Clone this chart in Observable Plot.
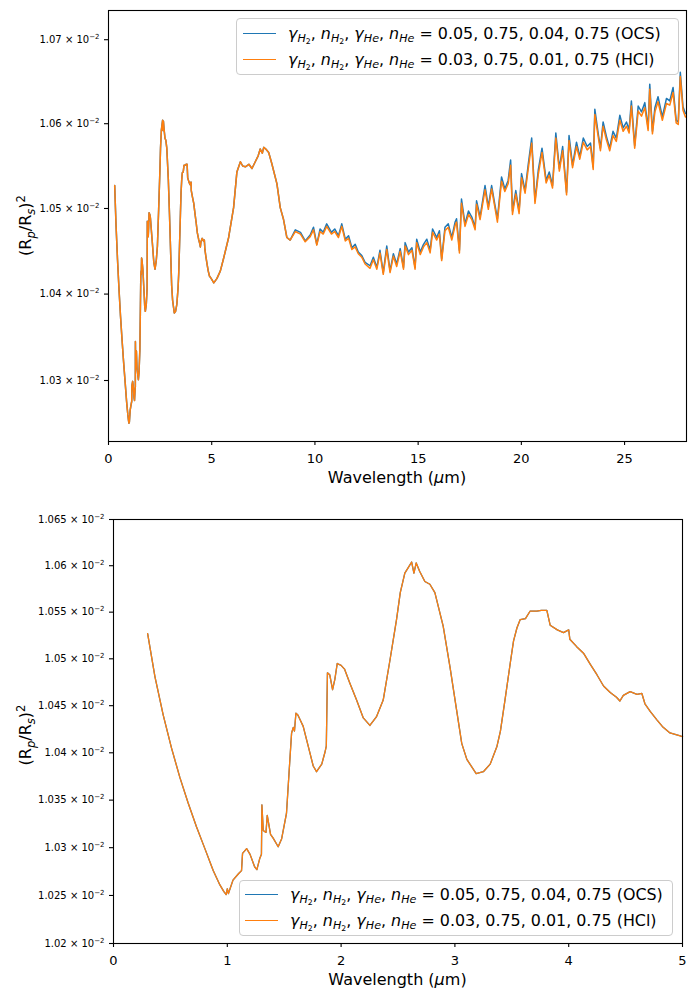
<!DOCTYPE html>
<html><head><meta charset="utf-8">
<script src="https://cdn.jsdelivr.net/npm/d3@7"></script>
<script src="https://cdn.jsdelivr.net/npm/@observablehq/plot@0.6"></script>
<style>
body{margin:0;background:#fff;font-family:"DejaVu Sans",sans-serif;}
.panel{position:relative;width:700px;overflow:hidden;}
.panel svg{display:block;}
.legend{position:absolute;background:rgba(255,255,255,0.8);border:1px solid #cccccc;border-radius:4px;box-sizing:border-box;font-family:"DejaVu Sans";color:#000;}
.row{display:flex;align-items:center;height:26px;white-space:nowrap;}
.handle{display:inline-block;width:33px;height:0;border-top:1.5px solid;}
.lab sub{font-size:70%;vertical-align:-0.3em;line-height:0;}
.lab i{font-style:italic;}
</style></head>
<body>
<div id="top" class="panel" style="height:494px"></div>
<div id="bottom" class="panel" style="height:495px"></div>
<script>
// ---- data: wavelength (µm) and (Rp/Rs)^2 in units of 1e-5 ----
const wlShort = [
 0.30,0.364,0.437,0.51,0.583,0.656,0.729,0.803,0.876,0.935,
 0.97,0.99,1.00,1.01,
 1.05,1.10,1.125,1.134,1.17,1.20,1.24,1.26,1.286,1.30,
 1.304,1.316,1.34,1.351,1.38,1.403,1.447,1.477,1.52,1.55,
 1.565,1.58,1.59,1.603,1.62,1.64,1.667,1.726,1.755,1.784,
 1.83,1.857,1.87,1.88,1.90,1.925,1.945,1.966,2.00,2.03,
 2.077,2.136,2.195,2.253,2.31,2.37,2.43,2.487,2.52,2.56,
 2.59,2.62,2.64,2.66,2.69,2.736,2.78,2.824,2.897,2.956,
 3.014,3.06,3.105,3.187,3.25,3.31,3.37,3.40,3.44,3.486,
 3.515,3.545,3.574,3.62,3.66,3.72,3.76,3.808,3.837,3.90,
 3.954,4.00,4.01,4.07,4.13,4.19,4.248,4.306,4.365,4.42,
 4.45,4.48,4.54,4.60,4.643,4.67,4.716,4.775,4.83,4.89,
 4.98,5.00,5.10,5.25,5.42,5.58,5.82,6.06,6.22,6.39,
 6.50,6.63,6.80,6.95,7.11,7.25,7.35,7.45,7.52,7.62,
 7.76,7.91,8.16,8.32,8.48,8.64,8.80
];
// identical for both line lists below 9 µm
const sharedShort = [
 1052.7,1048.1,1044.0,1040.5,1037.4,1034.7,1032.2,1029.9,1027.6,1026.1,
 1025.4,1025.1,1025.7,1025.2,
 1026.6,1027.3,1027.6,1029.4,1029.9,1029.3,1028.0,1027.7,1028.9,1029.3,
 1034.5,1031.8,1031.6,1033.4,1031.4,1031.0,1030.1,1030.9,1033.6,1039.3,
 1042.1,1042.7,1042.3,1044.2,1044.0,1043.5,1042.8,1040.0,1038.6,1038.0,
 1038.8,1040.0,1040.7,1048.5,1048.3,1046.7,1047.8,1049.5,1049.3,1048.9,
 1047.4,1045.6,1043.7,1042.9,1043.8,1045.6,1049.9,1054.2,1057.1,1059.2,
 1059.8,1060.4,1059.2,1060.3,1059.4,1058.3,1058.0,1057.1,1053.5,1049.2,
 1044.6,1041.0,1039.3,1037.8,1038.0,1038.8,1040.7,1042.3,1045.6,1049.5,
 1051.9,1053.3,1054.2,1054.3,1055.1,1055.1,1055.2,1055.2,1053.6,1053.1,
 1052.8,1053.1,1052.1,1051.3,1050.6,1049.4,1048.3,1047.1,1046.4,1045.9,
 1045.5,1046.1,1046.5,1046.2,1046.3,1045.2,1044.4,1043.5,1042.7,1042.1,
 1041.8,1041.7,1041.3,1041.8,1042.7,1044.2,1046.6,1050.1,1054.3,1055.5,
 1055.0,1054.9,1055.2,1054.7,1055.5,1056.2,1057.0,1056.5,1057.2,1057.0,
 1056.6,1055.3,1052.9,1050.1,1048.7,1046.6,1046.3
];
const wlLong = [
 9.05,9.30,9.53,9.77,9.93,10.09,10.25,10.40,10.57,10.80,
 10.96,11.14,11.30,11.47,11.63,11.79,11.95,12.10,12.27,12.43,
 12.67,12.83,13.00,13.15,13.31,13.48,13.64,13.80,13.96,14.13,
 14.29,14.37,14.53,14.70,14.85,14.93,15.10,15.26,15.42,15.58,
 15.70,15.90,16.03,16.14,16.30,16.46,16.63,16.79,16.86,17.00,
 17.10,17.27,17.44,17.60,17.76,17.83,18.00,18.24,18.40,18.56,
 18.72,18.84,19.04,19.20,19.36,19.48,19.57,19.73,19.89,20.01,
 20.18,20.33,20.50,20.66,20.82,21.00,21.20,21.35,21.51,21.67,
 21.84,22.00,22.19,22.31,22.48,22.67,22.83,23.00,23.19,23.35,
 23.48,23.56,23.72,23.83,23.96,24.12,24.28,24.44,24.60,24.77,
 24.93,25.09,25.22,25.33,25.49,25.66,25.82,25.98,26.14,26.22,
 26.35,26.47,26.62,26.83,27.03,27.19,27.35,27.50,27.60,27.70,
 27.83,27.95
];
const ocsLong = [
 1047.5,1047.2,1046.2,1046.9,1047.8,1045.8,1047.6,1047.2,1048.2,1047.2,
 1047.6,1046.8,1048.2,1046.4,1046.8,1045.4,1045.8,1044.9,1044.5,1043.7,
 1043.3,1044.3,1043.1,1045.1,1042.5,1045.6,1042.7,1044.7,1043.5,1045.3,
 1043.1,1046.0,1044.9,1045.4,1043.1,1046.4,1044.9,1045.8,1046.4,1045.1,
 1047.6,1046.6,1047.4,1044.1,1047.8,1048.2,1046.6,1048.4,1048.8,1045.1,
 1051.1,1048.2,1049.7,1049.0,1047.8,1050.9,1049.0,1052.7,1050.2,1052.7,
 1050.4,1048.8,1053.7,1052.3,1053.3,1055.7,1049.7,1052.1,1049.7,1054.1,
 1052.1,1055.1,1058.3,1050.9,1054.5,1057.1,1053.3,1054.3,1052.7,1058.9,
 1054.7,1057.3,1051.9,1058.6,1055.1,1057.8,1056.1,1058.3,1057.3,1057.7,
 1054.9,1061.7,1058.9,1057.1,1060.2,1058.5,1057.1,1059.1,1058.3,1061.0,
 1059.5,1060.2,1059.3,1062.7,1057.4,1062.1,1061.4,1062.5,1059.5,1064.7,
 1059.1,1061.9,1063.2,1060.8,1063.0,1062.7,1064.3,1060.4,1060.2,1066.1,
 1062.0,1061.2
];
const hclLong = [
 1047.3,1047.0,1046.1,1046.7,1047.5,1045.7,1047.3,1047.0,1047.9,1047.0,
 1047.3,1046.6,1047.9,1046.2,1046.5,1045.2,1045.5,1044.7,1044.3,1043.5,
 1043.0,1044.0,1042.9,1044.8,1042.3,1045.2,1042.5,1044.4,1043.2,1045.0,
 1042.9,1045.6,1044.6,1045.1,1042.9,1046.0,1044.6,1045.5,1046.0,1044.8,
 1047.2,1046.3,1047.0,1043.9,1047.4,1047.8,1046.3,1048.0,1048.4,1044.8,
 1050.6,1047.9,1049.3,1048.7,1047.5,1050.5,1048.7,1052.2,1049.9,1052.3,
 1050.1,1048.4,1053.2,1052.0,1052.9,1055.1,1049.3,1051.7,1049.4,1053.6,
 1051.8,1054.6,1057.7,1050.6,1054.0,1056.6,1053.0,1053.9,1052.4,1058.3,
 1054.4,1056.8,1051.6,1058.0,1054.8,1057.3,1055.8,1057.8,1056.9,1057.3,
 1054.6,1061.1,1058.5,1056.8,1059.7,1058.1,1056.8,1058.6,1057.9,1060.4,
 1059.1,1059.7,1058.9,1062.1,1057.1,1061.5,1060.9,1061.9,1059.2,1064.1,
 1058.8,1061.4,1062.6,1060.4,1062.4,1062.2,1063.7,1060.1,1059.9,1065.6,
 1061.6,1060.8
];
const seriesNames = ["OCS", "HCl"];
const seriesColors = ["#1f77b4", "#ff7f0e"];
const ocsParams = [0.05, 0.75, 0.04, 0.75];
const hclParams = [0.03, 0.75, 0.01, 0.75];
const topXTicks = [0, 5, 10, 15, 20, 25];
const topYTicks = [1.03e-2, 1.04e-2, 1.05e-2, 1.06e-2, 1.07e-2];
const bottomXTicks = [0, 1, 2, 3, 4, 5];
const bottomYTicks = [1.02e-2, 1.025e-2, 1.03e-2, 1.035e-2, 1.04e-2, 1.045e-2, 1.05e-2, 1.055e-2, 1.06e-2, 1.065e-2];

// ---- build table ----
const wavelength = wlShort.concat(wlLong);
const ocsValues = sharedShort.concat(ocsLong);
const hclValues = sharedShort.concat(hclLong);
if (wavelength.length !== ocsValues.length || wavelength.length !== hclValues.length)
  console.error("length mismatch", wavelength.length, ocsValues.length, hclValues.length);
const data = wavelength.map((wl, i) => ({wl, ocs: ocsValues[i] * 1e-5, hcl: hclValues[i] * 1e-5}));

const NS = "http://www.w3.org/2000/svg";
const fmtY = d => (d * 100).toFixed(3).replace(/0+$/, "") + " × 10⁻²";

function richText(parent, segs, attrs) {
  const t = document.createElementNS(NS, "text");
  for (const k in attrs) t.setAttribute(k, attrs[k]);
  for (const s of segs) {
    const ts = document.createElementNS(NS, "tspan");
    ts.textContent = s.t;
    if (s.dy) ts.setAttribute("dy", s.dy);
    if (s.size) ts.setAttribute("font-size", s.size);
    if (s.italic) ts.setAttribute("font-style", "italic");
    t.appendChild(ts);
  }
  parent.appendChild(t);
  return t;
}

function makePanel(el, cfg) {
  const rows = data.filter(d => d.wl <= cfg.xDomain[1]);
  const svg = Plot.plot({
    width: 700, height: cfg.height,
    marginLeft: cfg.ml, marginRight: cfg.mr, marginTop: cfg.mt, marginBottom: cfg.mb,
    style: {fontFamily: "DejaVu Sans", color: "black", background: "white", overflow: "visible"},
    x: {domain: cfg.xDomain},
    y: {type: "log", domain: cfg.yDomain},
    marks: [
      Plot.axisX({ticks: cfg.xTicks, tickFormat: d => String(d), tickSize: 4, tickPadding: 8, fontSize: 13, label: null, strokeWidth: 1.1}),
      Plot.axisY({ticks: cfg.yTicks, tickFormat: fmtY, tickSize: 4, tickPadding: 5, fontSize: 10, label: null, strokeWidth: 1.1}),
      Plot.line(rows, {x: "wl", y: "ocs", stroke: seriesColors[0], strokeWidth: cfg.lw}),
      Plot.line(rows, {x: "wl", y: "hcl", stroke: seriesColors[1], strokeWidth: cfg.lw}),
      Plot.frame({stroke: "black", strokeWidth: 1.1})
    ]
  });
  // superscript exponent on y tick labels
  svg.querySelectorAll('[aria-label="y-axis tick label"] text').forEach(t => {
    const m = t.textContent.match(/^(.*)⁻²$/);
    if (!m) return;
    t.textContent = "";
    const a = document.createElementNS(NS, "tspan"); a.textContent = m[1]; t.appendChild(a);
    const b = document.createElementNS(NS, "tspan"); b.textContent = "−2";
    b.setAttribute("dy", "-4"); b.setAttribute("font-size", "7"); t.appendChild(b);
  });
  const fx = cfg.ml + (700 - cfg.ml - cfg.mr) / 2;
  const fy = cfg.mt + (cfg.height - cfg.mt - cfg.mb) / 2;
  richText(svg, [{t: "Wavelength ("}, {t: "μ", italic: true}, {t: "m)"}],
    {x: fx, y: cfg.xLabelY, "text-anchor": "middle", "font-size": 16, "font-family": "DejaVu Sans", fill: "black"});
  richText(svg, [
    {t: "(R"}, {t: "p", italic: true, size: 11.5, dy: 3.5}, {t: "/R", dy: -3.5},
    {t: "s", italic: true, size: 11.5, dy: 3.5}, {t: ")", dy: -3.5}, {t: "2", size: 11.5, dy: -6.5}
  ], {transform: `translate(31,${fy + cfg.yLabelShift}) rotate(-90)`, "text-anchor": "middle", "font-size": 16, "font-family": "DejaVu Sans", fill: "black"});
  el.appendChild(svg);

  // legend
  const lg = document.createElement("div");
  lg.className = "legend";
  Object.assign(lg.style, {left: cfg.lg.left + "px", top: cfg.lg.top + "px", width: cfg.lg.w + "px", height: cfg.lg.h + "px", paddingTop: cfg.lg.pt + "px", fontSize: cfg.lg.fs + "px"});
  [ocsParams, hclParams].forEach((p, i) => {
    const row = document.createElement("div");
    row.className = "row";
    row.innerHTML = `<span class="handle" style="border-color:${seriesColors[i]};margin-left:${cfg.lg.hl}px;margin-right:12px"></span>` +
      `<span class="lab"><i>γ</i><sub><i>H</i><sub>2</sub></sub>, <i>n</i><sub><i>H</i><sub>2</sub></sub>, <i>γ</i><sub><i>He</i></sub>, <i>n</i><sub><i>He</i></sub> = ${p.map(v => v.toFixed(2)).join(", ")} (${seriesNames[i]})</span>`;
    lg.appendChild(row);
  });
  el.appendChild(lg);
}

makePanel(document.getElementById("top"), {
  height: 494, ml: 108, mr: 14, mt: 10, mb: 53,
  xDomain: [0, 28], yDomain: [1.023e-2, 1.0735e-2],
  xTicks: topXTicks, yTicks: topYTicks, lw: 1.5,
  xLabelY: 483, yLabelShift: 0,
  lg: {left: 236, top: 18, w: 443, h: 57, pt: 1, hl: 6, fs: 15.9}
});
makePanel(document.getElementById("bottom"), {
  height: 495, ml: 113, mr: 18, mt: 25, mb: 46,
  xDomain: [0, 5], yDomain: [1.02e-2, 1.065e-2],
  xTicks: bottomXTicks, yTicks: bottomYTicks, lw: 1.3,
  xLabelY: 491, yLabelShift: 4,
  lg: {left: 239, top: 386, w: 434, h: 56, pt: 0, hl: 5, fs: 15.9}
});
</script>
</body></html>
